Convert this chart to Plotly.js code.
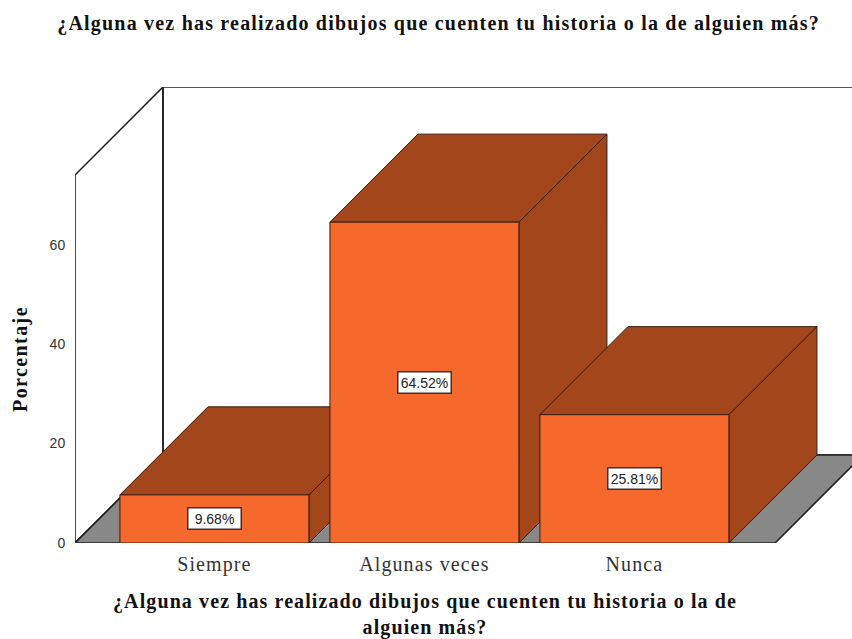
<!DOCTYPE html>
<html>
<head>
<meta charset="utf-8">
<script src="https://cdn.plot.ly/plotly-3.0.1.min.js"></script>
<style>
html,body{margin:0;padding:0;background:#fff;overflow:hidden}
.gtitle{letter-spacing:1.2px}
.xtitle{letter-spacing:1.1px;translate:0 4px}
.ytitle{letter-spacing:1.4px}
.xtick text{letter-spacing:1.1px}
</style>
</head>
<body>
<div id="chart" style="width:852px;height:639px"></div>
<script>
const categories = ["Siempre", "Algunas veces", "Nunca"];
const percentages = [9.68, 64.52, 25.81];
const yTicks = [0, 20, 40, 60];
const chartTitle = "¿Alguna vez has realizado dibujos que cuenten tu historia o la de alguien más?";
const xTitle = "¿Alguna vez has realizado dibujos que cuenten tu historia o la de<br>alguien más?";
const yTitle = "Porcentaje";

const xRange = [-0.664, 2.67];
const yRange = [0, 74];
const xRangeFull = [-0.664, 3.036];
const yRangeFull = [0, 91.7];
const depthX = 0.419;
const depthY = 17.7;
const barWidth = 0.9;
const front = "#f5692c", shade = "#a3461b", edge = "#3a1a0c", wallLine = "#222222", floorFill = "#888888";
const serif = "'Liberation Serif', serif";
const sans = "'Liberation Sans', Arial, sans-serif";

function poly(xs, ys, fill, line, width) {
  return {type: "scatter", mode: "lines", xaxis: "x2", yaxis: "y2", x: xs.concat(xs[0]), y: ys.concat(ys[0]),
    fill: fill ? "toself" : "none", fillcolor: fill || undefined,
    line: {color: line, width: width}, hoverinfo: "skip", showlegend: false};
}
const [xLeft, xRight] = xRange, yTop = yRange[1];
const traces = [
  {type: "scatter", mode: "markers", x: [0, 1, 2], y: percentages, marker: {opacity: 0}, hoverinfo: "skip", showlegend: false},
  poly([xLeft + depthX, xRight + depthX, xRight + depthX, xLeft + depthX], [depthY, depthY, yTop + depthY, yTop + depthY], null, wallLine, 1.6),
  poly([xLeft, xLeft + depthX, xLeft + depthX, xLeft], [0, depthY, yTop + depthY, yTop], null, wallLine, 1.6),
  poly([xLeft, xRight, xRight + depthX, xLeft + depthX], [0, 0, depthY, depthY], floorFill, wallLine, 1.6)
];
categories.forEach((c, i) => {
  const l = i - barWidth / 2, r = i + barWidth / 2, v = percentages[i];
  traces.push(poly([r, r + depthX, r + depthX, r], [0, depthY, v + depthY, v], shade, edge, 1));
  traces.push(poly([l, r, r + depthX, l + depthX], [v, v, v + depthY, v + depthY], shade, edge, 1));
  traces.push(poly([l, r, r, l], [0, 0, v, v], front, edge, 1));
});

const annotations = percentages.map((v, i) => ({
  x: i, y: v / 2, xref: "x2", yref: "y2", text: v.toFixed(2) + "%", showarrow: false,
  font: {family: sans, size: 14, color: "#222"}, width: 52, height: 20,
  bgcolor: "#ffffff", bordercolor: "#333333", borderwidth: 1.5, borderpad: 0
}));

const layout = {
  width: 852, height: 639,
  margin: {l: 75, r: 0, t: 87, b: 96},
  paper_bgcolor: "#ffffff", plot_bgcolor: "rgba(0,0,0,0)",
  showlegend: false,
  title: {text: chartTitle, font: {family: serif, size: 20, color: "#111", weight: "bold"},
    x: 0.468, xref: "paper", xanchor: "center", y: 0.964, yanchor: "middle"},
  xaxis: {domain: [0, 700 / 777], anchor: "y", range: xRange, tickmode: "array", tickvals: [0, 1, 2], ticktext: categories,
    showgrid: false, zeroline: false, showline: false, ticks: "outside", ticklen: 3, tickcolor: "rgba(0,0,0,0)",
    tickfont: {family: serif, size: 20, color: "#333"},
    title: {text: xTitle, font: {family: serif, size: 20, color: "#111", weight: "bold"}}},
  yaxis: {domain: [0, 368 / 456], anchor: "x", range: yRange, tickmode: "array", tickvals: yTicks,
    showgrid: false, zeroline: false, showline: false, ticks: "outside", ticklen: 6, tickcolor: "rgba(0,0,0,0)",
    tickfont: {family: sans, size: 14, color: "#333"},
    title: {text: yTitle, standoff: 16, font: {family: serif, size: 20, color: "#111", weight: "bold"}}},
  xaxis2: {domain: [0, 1], anchor: "y2", range: xRangeFull, visible: false},
  yaxis2: {domain: [0, 1], anchor: "x2", range: yRangeFull, visible: false},
  annotations: annotations
};
Plotly.newPlot("chart", traces, layout, {displayModeBar: false, staticPlot: true});
</script>
</body>
</html>
